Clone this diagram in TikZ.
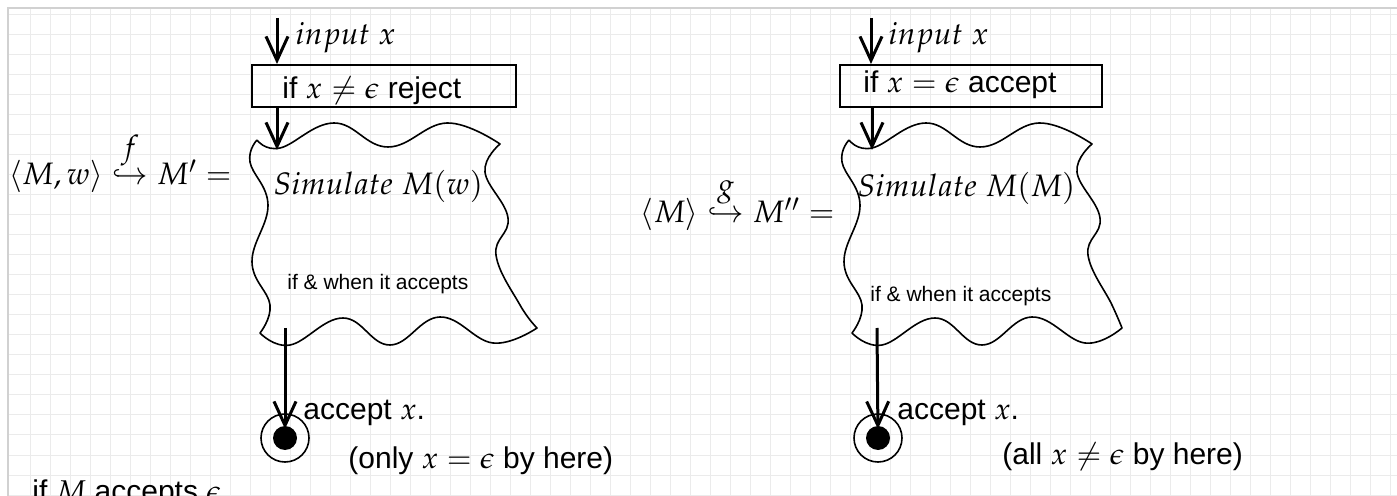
\documentclass[tikz,border=0pt]{standalone}
\usepackage{amsmath}
\usepackage{mathpazo}
\usepackage[no-math]{fontspec}
\setmainfont{Liberation Sans}
\usetikzlibrary{arrows.meta,calc}
\tikzset{
  lbl/.style={inner sep=0pt, font=\fontsize{15}{17}\selectfont},
  smalllbl/.style={inner sep=0pt, font=\fontsize{10.5}{12}\selectfont},
  mathlbl/.style={inner sep=0pt, font=\fontsize{15.5}{18}\selectfont},
  procbox/.style={draw, line width=1pt, minimum height=21pt, inner sep=0pt},
  flow/.style={line width=1.5pt, -{Straight Barb[length=12pt,width=11pt]}},
  wave/.style={line width=0.8pt, line join=round},
  accout/.style={circle, draw, line width=0.8pt, minimum size=24pt, inner sep=0pt},
  accin/.style={circle, fill, minimum size=12pt, inner sep=0pt},
  gridline/.style={draw=black!8, line width=0.5pt},
  frameline/.style={draw=black!18, line width=0.6pt}
}
\begin{document}
\begin{tikzpicture}[x=0.5pt,y=-0.5pt]
\useasboundingbox (0,0) rectangle (1397,496);
\fill[white] (0,0) rectangle (1397,496);
% grid
\foreach \gx in {30,50,...,1390} \draw[gridline] (\gx,8) -- (\gx,496);
\foreach \gy in {15,35,...,495} \draw[gridline] (8,\gy) -- (1397,\gy);
\draw[frameline] (8,496) -- (8,8) -- (1397,8);

% ---------- left construction ----------
\node[procbox, minimum width=132pt] (boxL) at (384,86) {};
\node[lbl, anchor=base west] (txtL) at (282,99) {if $x \neq \epsilon$ reject};
\coordinate (inL) at (277,18);
\node[mathlbl, anchor=base west] (inputL) at (295,45) {$input\ x$};
\draw[flow] (inL) -- (inL |- boxL.north);
\coordinate (topL) at (277,150);
\draw[flow] (topL |- boxL.south) -- (topL);

\draw[wave] plot[smooth,tension=0.7] coordinates {(257,140) (280,148) (334,123) (388,147) (447,123) (500,144)}
  -- plot[smooth,tension=0.7] coordinates {(500,144) (485,172) (508,218) (496,255) (520,305) (537,328)}
  -- plot[smooth,tension=0.7] coordinates {(537,328) (493,343) (440,317) (390,345) (343,318) (290,345) (260,333)}
  -- plot[smooth,tension=0.7] coordinates {(260,333) (270,305) (252,262) (268,205) (250,162) (257,140)};

\node[mathlbl, anchor=base west] (simL) at (273,195) {$Simulate\ M(w)$};
\node[smalllbl, anchor=base west] (whenL) at (287,290) {if \& when it accepts};
\node[mathlbl, anchor=base east] (fL) at (232,185) {$\langle M,w\rangle \overset{\textstyle f}{\hookrightarrow} M' =$};

\node[accout] (accL) at (285,438) {};
\node[accin] (accLi) at (accL.center) {};
\coordinate (botL) at (285,328);
\draw[flow, shorten >=4.5pt] (botL) -- (accL.center);
\node[lbl, anchor=base west] (acctL) at (303,420) {accept $x$.};
\node[lbl, anchor=base west] (onlyL) at (348,468) {(only $x = \epsilon$ by here)};

% ---------- right construction ----------
\node[procbox, minimum width=131pt] (boxR) at (971,86) {};
\node[lbl, anchor=base west] (txtR) at (863,93) {if $x = \epsilon$ accept};
\coordinate (inR) at (871,18);
\node[mathlbl, anchor=base west] (inputR) at (888,45) {$input\ x$};
\draw[flow] (inR) -- (inR |- boxR.north);
\coordinate (topR) at (872,150);
\draw[flow] (topR |- boxR.south) -- (topR);

\begin{scope}[xshift=296pt]
\draw[wave] plot[smooth,tension=0.7] coordinates {(257,140) (280,148) (334,123) (388,147) (447,123) (500,144)}
  -- plot[smooth,tension=0.7] coordinates {(500,144) (485,172) (508,218) (496,255) (520,305) (530,328)}
  -- plot[smooth,tension=0.7] coordinates {(530,328) (493,343) (440,317) (390,345) (343,318) (290,345) (260,333)}
  -- plot[smooth,tension=0.7] coordinates {(260,333) (270,305) (252,262) (268,205) (250,162) (257,140)};
\end{scope}

\node[mathlbl, anchor=base west] (simR) at (857,197) {$Simulate\ M(M)$};
\node[smalllbl, anchor=base west] (whenR) at (870,302) {if \& when it accepts};
\node[mathlbl, anchor=base east] (gR) at (835,223) {$\langle M\rangle \overset{\textstyle g}{\hookrightarrow} M'' =$};

\node[accout] (accR) at (878,438) {};
\node[accin] (accRi) at (accR.center) {};
\coordinate (botR) at (877,328);
\draw[flow, shorten >=4.5pt] (botR) -- (accR.center);
\node[lbl, anchor=base west] (acctR) at (897,420) {accept $x$.};
\node[lbl, anchor=base west] (allR) at (1002,465) {(all $x \neq \epsilon$ by here)};

% ---------- bottom (cut) ----------
\node[lbl, anchor=base west] (bottom) at (32,501) {if $M$ accepts $\epsilon$};
\end{tikzpicture}
\end{document}
